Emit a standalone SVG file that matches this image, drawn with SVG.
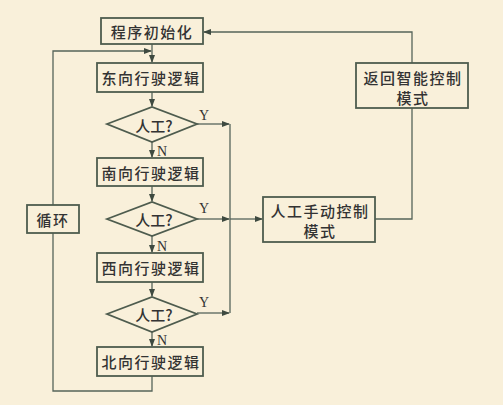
<svg xmlns="http://www.w3.org/2000/svg" width="503" height="405" viewBox="0 0 503 405">
<style>
.bg{fill:#F9F0DA}
.box{fill:#F9F0DA;stroke:#4E5C4E;stroke-width:1.8}
.ln{fill:none;stroke:#56645A;stroke-width:1.3}
.t{font-family:"Noto Sans CJK SC","Noto Sans",sans-serif;font-size:15px;font-weight:500;fill:#333;text-anchor:middle;dominant-baseline:central;letter-spacing:1.5px}
.yn{font-family:"Liberation Serif",serif;font-size:14px;fill:#333;dominant-baseline:central}
</style>
<defs>
<marker id="a" markerWidth="8" markerHeight="6" refX="7" refY="3" orient="auto" markerUnits="userSpaceOnUse">
<path d="M0,0 L8,3 L0,6 z" fill="#3E4A40"/>
</marker>
</defs>
<rect class="bg" width="503" height="405"/>
<g id="connectors">
<path class="ln" d="M152,44 V62" marker-end="url(#a)"/>
<path class="ln" d="M152,376 V391 H53 V51 H151" marker-end="url(#a)"/>
<path class="ln" d="M152,92 V106" marker-end="url(#a)"/>
<path class="ln" d="M152,142 V157" marker-end="url(#a)"/>
<path class="ln" d="M152,186 V201" marker-end="url(#a)"/>
<path class="ln" d="M152,236 V252" marker-end="url(#a)"/>
<path class="ln" d="M152,282 V296" marker-end="url(#a)"/>
<path class="ln" d="M152,332 V346" marker-end="url(#a)"/>
<path class="ln" d="M197,124 H229" marker-end="url(#a)"/>
<path class="ln" d="M197,313 H229" marker-end="url(#a)"/>
<path class="ln" d="M230,124 V313"/>
<path class="ln" d="M197,219 H229" marker-end="url(#a)"/>
<path class="ln" d="M230,219 H262" marker-end="url(#a)"/>
<path class="ln" d="M375,219 H412 V108"/>
<path class="ln" d="M412,63 V32 H204" marker-end="url(#a)"/>
<text class="yn" x="199" y="115">Y</text>
<text class="yn" x="199" y="208">Y</text>
<text class="yn" x="199" y="302">Y</text>
<text class="yn" x="157" y="151">N</text>
<text class="yn" x="157" y="246">N</text>
<text class="yn" x="157" y="340">N</text>
</g>
<g id="init"><rect class="box" x="101" y="18" width="102" height="26"/><text class="t" x="152" y="31">程序初始化</text></g>
<g id="east"><rect class="box" x="97" y="63" width="106" height="29"/><text class="t" x="151" y="77.5">东向行驶逻辑</text></g>
<g id="d1"><polygon class="box" points="107,124 152,107 197,124 152,142"/><text class="t" x="154" y="125" style="letter-spacing:0">人工?</text></g>
<g id="south"><rect class="box" x="97" y="158" width="106" height="28"/><text class="t" x="151" y="172">南向行驶逻辑</text></g>
<g id="d2"><polygon class="box" points="107,219 152,202 197,219 152,236"/><text class="t" x="154" y="219" style="letter-spacing:0">人工?</text></g>
<g id="west"><rect class="box" x="97" y="253" width="106" height="29"/><text class="t" x="151" y="267.5">西向行驶逻辑</text></g>
<g id="d3"><polygon class="box" points="107,314 152,297 197,314 152,332"/><text class="t" x="154" y="314" style="letter-spacing:0">人工?</text></g>
<g id="north"><rect class="box" x="97" y="347" width="106" height="29"/><text class="t" x="151" y="361.5">北向行驶逻辑</text></g>
<g id="loop"><rect class="box" x="27" y="205" width="52" height="28"/><text class="t" x="53" y="219">循环</text></g>
<g id="manual"><rect class="box" x="263" y="197" width="112" height="45"/><text class="t" x="320" y="210">人工手动控制</text><text class="t" x="320" y="230">模式</text></g>
<g id="return"><rect class="box" x="356" y="63" width="112" height="45"/><text class="t" x="413" y="77">返回智能控制</text><text class="t" x="413" y="97">模式</text></g>
</svg>
